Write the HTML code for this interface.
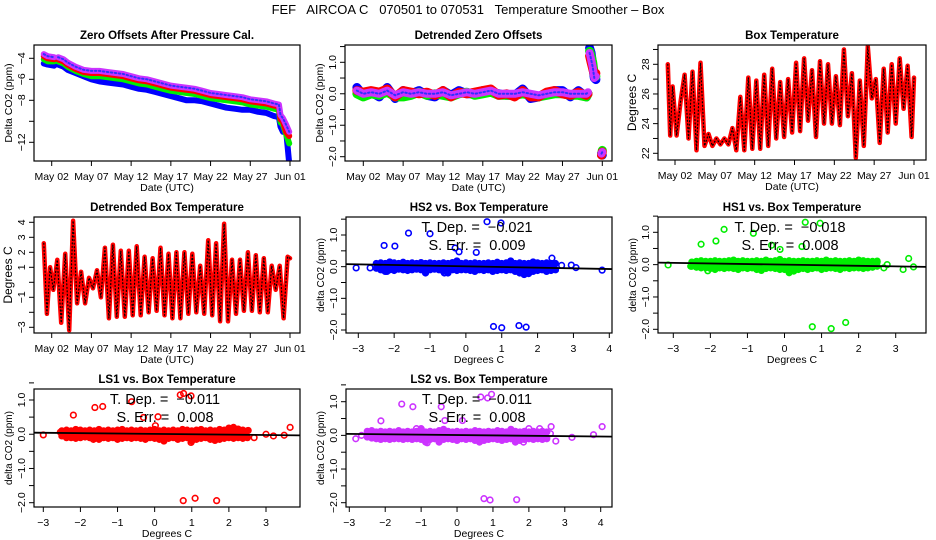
<!DOCTYPE html>
<html><head><meta charset="utf-8">
<style>
html,body{margin:0;padding:0;background:#fff;}
svg{display:block;font-family:"Liberation Sans",Arial,sans-serif;}
</style></head>
<body>
<svg id="chart" width="936" height="540" viewBox="0 0 936 540" xmlns="http://www.w3.org/2000/svg">
<rect width="936" height="540" fill="#fff"/>
<text x="468" y="14" font-size="13" text-anchor="middle" style="white-space:pre" xml:space="preserve">FEF   AIRCOA C   070501 to 070531   Temperature Smoother – Box</text>
</svg>
<script>
// ---------- DATA ----------
const tOff = [0,0.5,1.3,null,1.8,2.5,3,4,5,6,7,8,9,10,11,12,13,14,15,16,17,18,19,20,21,22,23,24,25,26,27,28,29,29.6,29.8,30.1,30.5,30.9];
const offPurple = [-3.6,-3.8,-3.9,null,-3.9,-4.1,-4.4,-4.8,-5.1,-5.2,-5.2,-5.3,-5.4,-5.5,-5.7,-5.9,-6.0,-6.2,-6.4,-6.6,-6.7,-6.8,-6.9,-7.1,-7.3,-7.4,-7.5,-7.6,-7.7,-7.9,-8.0,-8.1,-8.3,-8.4,-9.4,-9.7,-10.3,-11.0];
const offRed    = [-3.8,-4.0,-4.1,null,-4.1,-4.3,-4.6,-5.0,-5.3,-5.4,-5.4,-5.5,-5.6,-5.7,-5.9,-6.1,-6.2,-6.4,-6.6,-6.8,-6.9,-7.0,-7.1,-7.3,-7.5,-7.6,-7.7,-7.8,-7.9,-8.1,-8.2,-8.3,-8.5,-8.6,-9.8,-10.0,-11.0,-11.4];
const offGreen  = [-4.1,-4.3,-4.3,null,-4.3,-4.5,-4.8,-5.2,-5.5,-5.7,-5.7,-5.8,-5.9,-6.0,-6.2,-6.4,-6.5,-6.7,-6.9,-7.1,-7.2,-7.3,-7.4,-7.6,-7.8,-7.9,-8.0,-8.1,-8.2,-8.4,-8.5,-8.6,-8.8,-8.9,-10.1,-10.3,-11.2,-12.1];
const offBlue   = [-4.5,-4.6,-4.7,null,-4.6,-4.8,-5.1,-5.4,-5.7,-6.0,-6.2,-6.3,-6.4,-6.5,-6.7,-6.9,-7.0,-7.2,-7.4,-7.6,-7.8,-8.0,-8.0,-8.1,-8.3,-8.5,-8.7,-8.8,-8.9,-8.9,-9.1,-9.2,-9.5,-9.6,-10.5,-11.0,-10.8,-14.0];

const tDet = [0.2,1,2,3,4,5,6,7,8,9,10,11,12,13,14,15,16,17,18,19,20,21,22,23,24,25,26,27,28,29,29.2,null,29.4,29.6,29.8,30.0,30.2,null,30.9,31.0];
const detPurple = [0.1,0.0,0.05,0.0,0.1,-0.05,0.05,0.0,0.05,0.0,0.0,0.05,-0.05,0.0,0.05,0.0,0.05,0.1,0.0,0.0,0.0,0.05,0.0,-0.05,0.0,0.05,0.05,0.0,0.0,0.0,0.05,null,1.3,1.1,0.85,0.5,0.55,null,-1.9,-1.85];
const detRed    = [0.1,0.05,0.1,0.05,0.15,-0.1,0.1,0.05,0.0,0.05,-0.05,0.1,-0.1,0.05,0.0,0.05,0.1,0.15,-0.05,0.0,-0.1,0.1,-0.1,-0.1,0.05,0.1,0.0,-0.05,0.05,-0.05,0.0,null,1.2,1.0,0.8,0.6,0.65,null,-1.95,-1.85];
const detGreen  = [0.0,-0.1,0.0,-0.05,0.05,-0.1,-0.1,-0.05,0.05,-0.05,0.0,-0.05,-0.1,0.0,0.05,-0.05,0.0,0.05,-0.05,-0.05,-0.05,0.0,-0.05,-0.1,-0.05,0.0,0.0,-0.05,-0.05,-0.1,0.0,null,1.35,1.2,1.0,0.6,0.55,null,-1.95,-1.8];
const detBlue   = [0.2,-0.05,0.05,-0.1,0.2,-0.15,0.1,0.0,0.1,-0.05,-0.1,0.1,-0.05,0.1,0.0,0.0,0.1,0.05,0.0,-0.05,-0.05,0.15,-0.15,-0.1,0.0,0.1,0.1,-0.1,0.1,-0.1,0.0,null,1.45,1.3,0.9,0.5,0.45,null,-1.9,-1.95];

const tBox = [0.1,0.4,0.7,1.2,1.7,2.2,2.7,3.2,3.7,4.2,4.7,5.2,5.7,6.2,6.7,7.2,7.7,8.2,8.7,9.2,9.7,10.2,10.7,11.2,11.7,12.2,12.7,13.2,13.7,14.2,14.7,15.2,15.7,16.2,16.7,17.2,17.7,18.2,18.7,19.2,19.7,20.2,20.7,21.2,21.7,22.2,22.7,23.2,23.7,24.2,24.7,25.2,25.7,26.2,26.7,27.2,27.7,28.2,28.7,29.2,29.7,30.2,30.7,31.0];
const boxTemp = [28.0,23.2,26.5,23.2,25.5,27.3,23.0,27.5,22.2,28.1,22.5,23.3,22.5,23.0,22.6,23.0,22.6,23.7,22.2,25.8,22.2,27.1,22.3,26.9,22.3,27.3,22.5,27.7,23.0,26.8,23.1,27.0,23.4,28.1,23.5,28.4,24.2,27.6,23.1,28.2,24.0,28.0,24.0,27.2,23.9,29.0,24.5,27.4,21.7,26.9,22.5,29.2,25.7,27.0,22.7,27.7,23.4,28.0,24.0,28.4,25.0,27.9,23.1,27.1];

const tDbox = [0.0,0.4,0.8,1.2,1.7,2.2,2.7,3.2,3.7,4.2,4.7,5.2,5.7,6.2,6.7,7.2,7.7,8.2,8.7,9.2,9.7,10.2,10.7,11.2,11.7,12.2,12.7,13.2,13.7,14.2,14.7,15.2,15.7,16.2,16.7,17.2,17.7,18.2,18.7,19.2,19.7,20.2,20.7,21.2,21.7,22.2,22.7,23.2,23.7,24.2,24.7,25.2,25.7,26.2,26.7,27.2,27.7,28.2,28.7,29.2,29.7,30.2,30.7,31.0];
const dboxTemp = [2.6,-2.1,1.0,-0.5,1.5,-2.7,1.9,-3.2,4.1,-1.4,0.7,-1.4,0.3,-0.4,0.8,-1.0,2.3,-2.4,2.5,-2.3,2.1,-2.3,2.1,-2.2,2.4,-2.2,1.7,-2.0,1.6,-1.9,2.3,-2.2,1.9,-2.4,2.0,-2.4,2.0,-2.1,1.9,-2.0,1.1,-2.1,2.8,-2.2,2.6,-2.6,3.9,-2.6,1.5,-2.1,1.5,-1.9,2.0,-1.9,1.8,-2.0,1.6,-2.0,1.1,-0.5,1.1,-2.4,1.7,1.6];

const bandX = [-2.5,-2.375,-2.25,-2.125,-2.0,-1.875,-1.75,-1.625,-1.5,-1.375,-1.25,-1.125,-1.0,-0.875,-0.75,-0.625,-0.5,-0.375,-0.25,-0.125,0.0,0.125,0.25,0.375,0.5,0.625,0.75,0.875,1.0,1.125,1.25,1.375,1.5,1.625,1.75,1.875,2.0,2.125,2.25,2.375,2.5];
const hs2Hi = [0.1,0.12,0.1,0.15,0.12,0.1,0.14,0.1,0.12,0.1,0.13,0.1,0.12,0.1,0.1,0.12,0.1,0.13,0.18,0.1,0.12,0.1,0.12,0.1,0.1,0.12,0.1,0.14,0.1,0.12,0.18,0.1,0.12,0.1,0.1,0.15,0.12,0.1,0.12,0.1,0.1];
const hs2Lo = [-0.05,-0.1,-0.15,-0.1,-0.12,-0.08,-0.1,-0.12,-0.1,-0.08,-0.1,-0.2,-0.1,-0.08,-0.1,-0.15,-0.2,-0.1,-0.12,-0.1,-0.1,-0.12,-0.15,-0.1,-0.12,-0.1,-0.15,-0.12,-0.1,-0.12,-0.1,-0.15,-0.2,-0.25,-0.22,-0.15,-0.12,-0.1,-0.15,-0.12,-0.1];
const hs2X = [-3.06,-2.67,-2.28,-1.98,-1.60,-1.0,-0.30,-0.19,0.29,0.59,0.98,0.77,1.0,1.48,1.68,2.4,2.49,2.67,2.94,3.07,3.8,-2.2,-0.6];
const hs2Y = [-0.04,-0.04,0.67,0.65,1.06,1.04,0.59,0.47,0.45,1.42,1.38,-1.89,-1.93,-1.86,-1.91,0.27,0.09,0.04,0.05,-0.03,-0.11,-0.15,-0.2];
const hs1Hi = [0.08,0.1,0.12,0.1,0.1,0.12,0.1,0.1,0.12,0.14,0.1,0.12,0.1,0.1,0.12,0.1,0.14,0.1,0.12,0.16,0.1,0.12,0.1,0.1,0.12,0.1,0.1,0.12,0.1,0.14,0.1,0.12,0.1,0.1,0.12,0.1,0.14,0.12,0.1,0.1,0.08];
const hs1Lo = [-0.05,-0.08,-0.1,-0.1,-0.12,-0.15,-0.1,-0.12,-0.1,-0.12,-0.15,-0.1,-0.12,-0.1,-0.15,-0.18,-0.12,-0.1,-0.12,-0.15,-0.15,-0.25,-0.2,-0.15,-0.12,-0.15,-0.12,-0.1,-0.15,-0.12,-0.1,-0.12,-0.15,-0.1,-0.12,-0.1,-0.1,-0.12,-0.1,-0.08,-0.05];
const hs1X = [-3.14,-2.53,-2.25,-1.85,-1.63,-0.84,-0.35,-0.12,0.47,0.56,0.96,0.75,1.26,1.65,-2.07,2.5,2.77,3.2,3.35,3.48,2.68];
const hs1Y = [-0.01,-0.05,0.63,0.73,1.09,0.97,0.6,0.47,0.56,1.31,1.28,-1.92,-1.98,-1.79,-0.19,0.11,0.0,-0.15,0.19,-0.07,-0.1];
const ls1Hi = [0.1,0.12,0.1,0.14,0.12,0.1,0.12,0.1,0.14,0.1,0.12,0.1,0.12,0.14,0.1,0.12,0.1,0.12,0.1,0.12,0.14,0.1,0.12,0.1,0.12,0.1,0.14,0.12,0.1,0.12,0.14,0.1,0.12,0.1,0.14,0.12,0.18,0.2,0.15,0.12,0.1];
const ls1Lo = [-0.05,-0.1,-0.1,-0.12,-0.1,-0.08,-0.1,-0.12,-0.15,-0.1,-0.12,-0.1,-0.15,-0.12,-0.1,-0.12,-0.1,-0.12,-0.15,-0.1,-0.12,-0.15,-0.2,-0.12,-0.1,-0.15,-0.12,-0.1,-0.2,-0.15,-0.12,-0.1,-0.15,-0.18,-0.15,-0.12,-0.1,-0.12,-0.1,-0.12,-0.1];
const ls1X = [-3.0,-2.54,-2.19,-1.61,-1.40,-0.62,-0.30,0.09,0.69,0.78,0.98,0.77,1.09,1.67,0.02,-1.65,0.98,2.52,2.68,3.0,3.2,3.49,3.65];
const ls1Y = [-0.02,0.06,0.56,0.78,0.81,0.95,0.49,0.51,1.15,1.19,1.12,-1.94,-1.87,-1.94,0.25,-0.15,-0.24,0.11,-0.1,0.0,-0.05,-0.03,0.2];
const ls2Hi = [0.12,0.14,0.1,0.12,0.1,0.12,0.1,0.14,0.1,0.12,0.1,0.12,0.2,0.1,0.12,0.1,0.14,0.18,0.12,0.1,0.12,0.1,0.12,0.1,0.14,0.12,0.1,0.12,0.1,0.14,0.12,0.1,0.18,0.12,0.1,0.12,0.1,0.12,0.1,0.12,0.1];
const ls2Lo = [-0.05,-0.08,-0.1,-0.12,-0.1,-0.12,-0.1,-0.1,-0.12,-0.1,-0.12,-0.1,-0.12,-0.2,-0.12,-0.1,-0.2,-0.12,-0.1,-0.12,-0.15,-0.1,-0.12,-0.1,-0.15,-0.2,-0.15,-0.12,-0.1,-0.12,-0.15,-0.12,-0.1,-0.2,-0.15,-0.12,-0.1,-0.12,-0.1,-0.12,-0.1];
const ls2X = [-2.82,-2.66,-2.12,-1.54,-1.23,-0.44,-0.34,0.15,0.66,0.85,0.96,0.75,0.92,1.66,-1.13,2.0,2.3,2.62,2.6,2.75,3.2,3.8,4.04,1.85,-0.83];
const ls2Y = [-0.1,0.0,0.43,0.93,0.85,0.85,0.44,0.44,1.14,1.11,1.22,-1.88,-1.92,-1.91,0.2,0.2,0.2,0.26,0.05,-0.17,-0.06,0.02,0.26,-0.2,-0.22];
const fitSlopes = [-0.021,-0.018,-0.011,-0.011];
const fitIntercepts = [0.01,0.0,0.01,0.01];
const statDep = ["−0.021","−0.018","−0.011","−0.011"];
const statErr = ["0.009","0.008","0.008","0.008"];

const dateTicks = [1,6,11,16,21,26,31];
const dateLabels = ["May 02","May 07","May 12","May 17","May 22","May 27","Jun 01"];

// ---------- RENDER ----------
const NS = "http://www.w3.org/2000/svg";
const svg = document.getElementById('chart');
function mk(tag, attrs, parent){
  const e = document.createElementNS(NS, tag);
  for (const k in attrs) e.setAttribute(k, attrs[k]);
  (parent||svg).appendChild(e);
  return e;
}
let clipN = 0;
function panel(c){
  const g = mk('g', {});
  
  
  const [l,t,r,b] = c.box;
  const X = v => c.xs[1] + (v - c.xs[0]) * (c.xs[3]-c.xs[1])/(c.xs[2]-c.xs[0]);
  const Y = v => c.ys[1] + (v - c.ys[0]) * (c.ys[3]-c.ys[1])/(c.ys[2]-c.ys[0]);
  const id = 'clip'+(clipN++);
  const cp = mk('clipPath', {id:id}, g);
  mk('rect', {x:l, y:t, width:r-l, height:b-t}, cp);
  const data = mk('g', {'clip-path':'url(#'+id+')'}, g);
  
  
  const box = mk('rect', {x:l, y:t, width:r-l, height:b-t, fill:'none', stroke:'#000', 'stroke-width':1.2}, g);
  
  
  const title = mk('text', {x:(l+r)/2, y:t-6, 'font-size':11.5, 'font-weight':'bold', 'text-anchor':'middle'}, g);
  title.textContent = c.title;
  
  
  const xax = mk('g', {}, g);
  
  
  c.xticks.forEach((v,i)=>{
    mk('line', {x1:X(v), x2:X(v), y1:b, y2:b+5, stroke:'#000'}, xax);
    const tx = mk('text', {x:X(v), y:b+19, 'font-size':10.5, 'text-anchor':'middle'}, xax);
    tx.textContent = c.xlabels[i];
  });
  const xl = mk('text', {x:(l+r)/2, y:b+30, 'font-size':10.5, 'text-anchor':'middle'}, g);
  xl.textContent = c.xlab;
  
  
  const yax = mk('g', {}, g);
  
  
  c.yticks.forEach((v,i)=>{
    mk('line', {x1:l-5, x2:l, y1:Y(v), y2:Y(v), stroke:'#000'}, yax);
    if (c.ylabels[i]) {
      const tx = mk('text', {x:0, y:0, 'font-size':10.5, 'text-anchor':'middle', transform:`translate(${l-9},${Y(v)}) rotate(-90)`}, yax);
      tx.textContent = c.ylabels[i];
    }
  });
  const yl = mk('text', {x:0, y:0, 'font-size':c.ylabSize||10.5, 'text-anchor':'middle', transform:`translate(${l-22},${(t+b)/2}) rotate(-90)`}, g);
  yl.textContent = c.ylab;
  
  
  return {X, Y, data, g, box:c.box};
}
function line(p, xs, ys, color, w, name, dash){
  let d = '', pen = false;
  for (let i=0;i<xs.length;i++){
    if (xs[i]===null || ys[i]===null){ pen=false; continue; }
    d += (pen?'L':'M') + p.X(xs[i]).toFixed(1) + ' ' + p.Y(ys[i]).toFixed(1) + ' ';
    pen = true;
  }
  const a = {d:d, fill:'none', stroke:color, 'stroke-width':w, 'stroke-linejoin':'round', 'stroke-linecap':'round'};
  if (dash) a['stroke-dasharray'] = dash;
  const e = mk('path', a, p.data);
  
  
  return e;
}
function dots(p, xs, ys, color, name, fill){
  const g = mk('g', {}, p.data);
  
  
  xs.forEach((x,i)=>{
    mk('circle', {cx:p.X(x), cy:p.Y(ys[i]), r:2.8, fill:fill||'none', stroke:color, 'stroke-width':1.6}, g);
  });
}
function band(p, xs, hi, lo, color, name){
  let d = 'M';
  xs.forEach((x,i)=>{ d += p.X(x).toFixed(1)+' '+p.Y(hi[i]).toFixed(1)+' L'; });
  for (let i=xs.length-1;i>=0;i--){ d += p.X(xs[i]).toFixed(1)+' '+p.Y(lo[i]).toFixed(1)+(i?' L':' Z'); }
  const e = mk('path', {d:d, fill:color, stroke:color, 'stroke-width':3}, p.data);
  
  
}
const COL = {blue:'#0000ff', green:'#00ee00', red:'#ff0000', purple:'#cc33ff'};

const p1 = panel({name:'zero-offsets-panel', box:[34,45,300,161], xs:[1,51.7,31,290], ys:[-4,58.3,-12,142.3],
  title:'Zero Offsets After Pressure Cal.', xlab:'Date (UTC)', ylab:'Delta CO2 (ppm)',
  xticks:dateTicks, xlabels:dateLabels, yticks:[-4,-6,-8,-10,-12], ylabels:['−4','−6','−8','','−12']});
line(p1, tOff, offBlue, COL.blue, 6, 'series-hs2');
line(p1, tOff, offGreen, COL.green, 6, 'series-hs1');
line(p1, tOff, offRed, COL.red, 6, 'series-ls1');
line(p1, tOff, offPurple, COL.purple, 6, 'series-ls2');
line(p1, tOff, offPurple, '#3030ff', 2, 'series-ls2-texture', '1.5,2.5');

const p2 = panel({name:'detrended-zero-offsets-panel', box:[345,45,612,161], xs:[1,363.3,31,602.3], ys:[1,62.3,-2,156.7],
  title:'Detrended Zero Offsets', xlab:'Date (UTC)', ylab:'Delta CO2 (ppm)',
  xticks:dateTicks, xlabels:dateLabels, yticks:[-2,-1.5,-1,-0.5,0,0.5,1,1.5], ylabels:['−2.0','','−1.0','','0.0','','1.0','']});
line(p2, tDet, detBlue, COL.blue, 9, 'detrended-hs2');
line(p2, tDet, detGreen, COL.green, 9, 'detrended-hs1');
line(p2, tDet, detRed, COL.red, 9, 'detrended-ls1');
line(p2, tDet, detPurple, COL.purple, 8, 'detrended-ls2');
line(p2, tDet, detPurple, '#3030ff', 2, 'detrended-ls2-texture', '1.5,2.5');

const p3 = panel({name:'box-temperature-panel', box:[658,45,926,160], xs:[1,675,31,914], ys:[28,64.3,22,153.3],
  title:'Box Temperature', xlab:'Date (UTC)', ylab:'Degrees C',
  xticks:dateTicks, xlabels:dateLabels, yticks:[22,23,24,25,26,27,28,29], ylabels:['22','','24','','26','','28',''], ylabSize:12});
line(p3, tBox, boxTemp, COL.red, 4.5, 'box-temperature-series');
line(p3, tBox, boxTemp, '#000', 1.2, 'box-temperature-texture', '1,2.5');

const p4 = panel({name:'detrended-box-temperature-panel', box:[34,217,300,333], xs:[1,51.7,31,290], ys:[4,222.3,-3,327.3],
  title:'Detrended Box Temperature', xlab:'Date (UTC)', ylab:'Degrees C',
  xticks:dateTicks, xlabels:dateLabels, yticks:[-3,-2,-1,0,1,2,3,4], ylabels:['−3','','−1','','1','2','3','4'], ylabSize:12});
line(p4, tDbox, dboxTemp, COL.red, 4.5, 'detrended-box-temperature-series');
line(p4, tDbox, dboxTemp, '#000', 1.2, 'detrended-box-temperature-texture', '1,2.5');

const ytk = [-2,-1.5,-1,-0.5,0,0.5,1,1.5], ylb = ['−2.0','','−1.0','','0.0','','1.0',''];
function scatter(cfg, hi, lo, ox, oy, color, k){
  const p = panel({name:cfg.name, box:cfg.box, xs:cfg.xs, ys:cfg.ys, title:cfg.title, xlab:'Degrees C', ylab:'delta CO2 (ppm)',
    xticks:cfg.xticks, xlabels:cfg.xticks.map(v=>v<0?'−'+(-v):String(v)), yticks:ytk, ylabels:ylb, ylabSize:10});
  band(p, bandX, hi, lo, color, cfg.name+'-band');
  dots(p, bandX, hi, color, cfg.name+'-band-upper', color);
  dots(p, bandX, lo, color, cfg.name+'-band-lower', color);
  dots(p, ox, oy, color, cfg.name+'-points');
  const [l,t,r,b] = cfg.box;
  const x0 = -5, x1 = 5;
  const fl = mk('line', {x1:p.X(x0), y1:p.Y(fitIntercepts[k]+fitSlopes[k]*x0), x2:p.X(x1), y2:p.Y(fitIntercepts[k]+fitSlopes[k]*x1), stroke:'#000', 'stroke-width':1.8}, p.data);
  
  
  const cx = (l+r)/2 - 2;
  const s1 = mk('text', {x:cx, y:t+15, 'font-size':14.5, 'text-anchor':'middle', 'xml:space':'preserve', style:'white-space:pre'}, p.g);
  s1.textContent = 'T. Dep. =  ' + statDep[k];
  
  
  const s2 = mk('text', {x:cx, y:t+33, 'font-size':14.5, 'text-anchor':'middle', style:'white-space:pre'}, p.g);
  s2.textContent = 'S. Err. =  ' + statErr[k];
  
  
}
scatter({name:'hs2-scatter-panel', box:[346,217,612,333], xs:[-3,358.3,4,609.3], ys:[1,235,-2,330], title:'HS2 vs. Box Temperature', xticks:[-3,-2,-1,0,1,2,3,4]}, hs2Hi, hs2Lo, hs2X, hs2Y, COL.blue, 0);
scatter({name:'hs1-scatter-panel', box:[658,217,926,333], xs:[-3,673.3,3,895.7], ys:[1,232.3,-2,329.3], title:'HS1 vs. Box Temperature', xticks:[-3,-2,-1,0,1,2,3]}, hs1Hi, hs1Lo, hs1X, hs1Y, COL.green, 1);
scatter({name:'ls1-scatter-panel', box:[34,389,300,507], xs:[-3,43.3,3,266], ys:[1,400,-2,502.7], title:'LS1 vs. Box Temperature', xticks:[-3,-2,-1,0,1,2,3]}, ls1Hi, ls1Lo, ls1X, ls1Y, COL.red, 2);
scatter({name:'ls2-scatter-panel', box:[346,389,612,507], xs:[-3,349.3,4,600.7], ys:[1,401.7,-2,502.7], title:'LS2 vs. Box Temperature', xticks:[-3,-2,-1,0,1,2,3,4]}, ls2Hi, ls2Lo, ls2X, ls2Y, COL.purple, 3);
</script>
</body></html>
